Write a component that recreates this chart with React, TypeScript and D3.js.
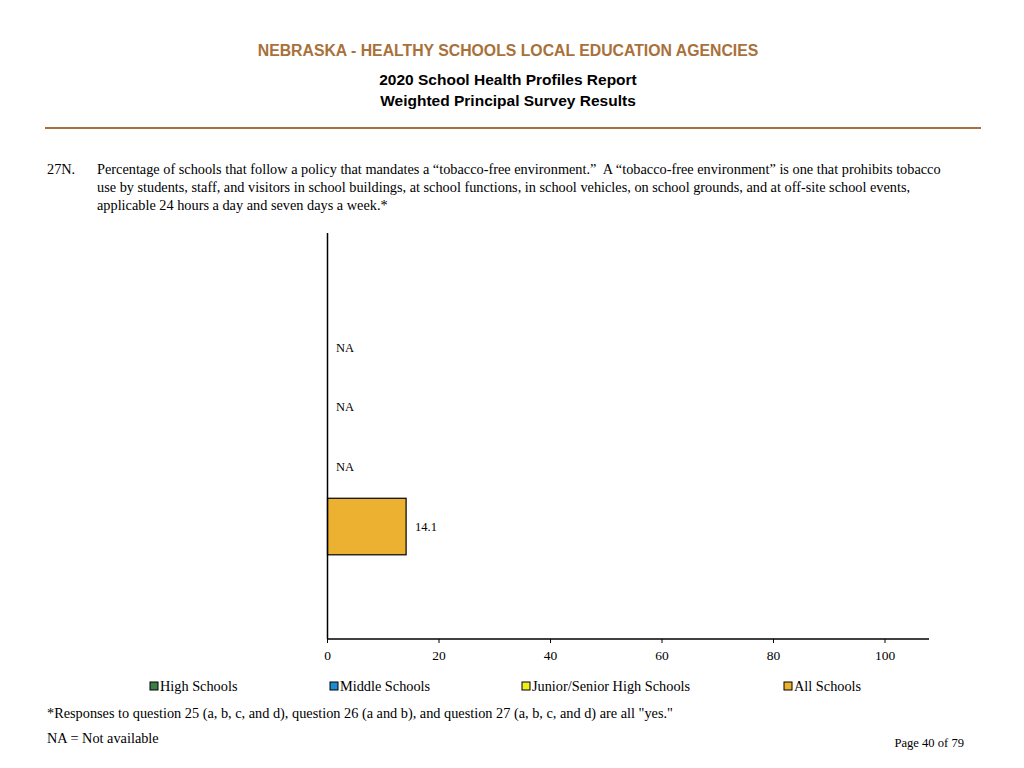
import React from "react";
import * as d3 from "d3";

const categories = ["High Schools", "Middle Schools", "Junior/Senior High Schools", "All Schools"];
const values: (number | null)[] = [null, null, null, 14.1];
const colors = ["#3c7f46", "#1a8ccf", "#f2ee1c", "#edb131"];
const xTicks = [0, 20, 40, 60, 80, 100];
const legendX = [150, 330, 522, 784];

const questionLines = [
  "Percentage of schools that follow a policy that mandates a \u201ctobacco-free environment.\u201d\u00a0 A \u201ctobacco-free environment\u201d is one that prohibits tobacco",
  "use by students, staff, and visitors in school buildings, at school functions, in school vehicles, on school grounds, and at off-site school events,",
  "applicable 24 hours a day and seven days a week.*",
];

export default function App() {
  const W = 1024, H = 768;
  const x = d3.scaleLinear().domain([0, 100]).range([327.5, 885]);
  const y = d3.scaleBand<string>().domain(categories).range([318.5, 556]).paddingInner(0.05).paddingOuter(0.02);
  const serif = "'Liberation Serif', 'Times New Roman', serif";
  const sans = "'Liberation Sans', Arial, sans-serif";
  const fs = 14.3;
  return (
    <svg width={W} height={H} style={{ position: "absolute", left: 0, top: 0, background: "#fff" }}>
      <text x={508} y={55.5} textAnchor="middle" fontFamily={sans} fontWeight="bold" fontSize={15.8} fill="#a8703a">
        NEBRASKA - HEALTHY SCHOOLS LOCAL EDUCATION AGENCIES
      </text>
      <text x={508} y={84.5} textAnchor="middle" fontFamily={sans} fontWeight="bold" fontSize={15.5} fill="#000">
        2020 School Health Profiles Report
      </text>
      <text x={508} y={105.5} textAnchor="middle" fontFamily={sans} fontWeight="bold" fontSize={15.5} fill="#000">
        Weighted Principal Survey Results
      </text>
      <line x1={45} x2={981} y1={128} y2={128} stroke="#a8703a" strokeWidth={2} />
      <text x={47} y={174} fontFamily={serif} fontSize={fs} fill="#000">27N.</text>
      {questionLines.map((l, i) => (
        <text key={i} x={97} y={174 + i * 18} fontFamily={serif} fontSize={fs} fill="#000">{l}</text>
      ))}
      {categories.map((c, i) => {
        const v = values[i];
        const y0 = y(c)!;
        const bh = y.bandwidth();
        if (v === null) {
          return (
            <text key={c} x={336} y={y0 + bh / 2 + 4} fontFamily={serif} fontSize={12.5} fill="#000">NA</text>
          );
        }
        return (
          <g key={c}>
            <rect x={x(0)} y={y0} width={x(v) - x(0)} height={bh} fill={colors[i]} stroke="#000" strokeWidth={1.2} />
            <text x={x(v) + 9} y={y0 + bh / 2 + 4} fontFamily={serif} fontSize={12.5} fill="#000">{v.toFixed(1)}</text>
          </g>
        );
      })}
      <line x1={327.5} x2={327.5} y1={233} y2={639} stroke="#000" strokeWidth={1.5} />
      <line x1={327} x2={929} y1={639} y2={639} stroke="#000" strokeWidth={1.5} />
      {xTicks.map((t) => (
        <g key={t}>
          <line x1={x(t)} x2={x(t)} y1={639} y2={643} stroke="#000" strokeWidth={1} />
          <text x={x(t)} y={660} textAnchor="middle" fontFamily={serif} fontSize={13.5} fill="#000">{t}</text>
        </g>
      ))}
      {categories.map((c, i) => (
        <g key={c}>
          <rect x={legendX[i]} y={682} width={8} height={8} fill={colors[i]} stroke="#000" strokeWidth={1} />
          <text x={legendX[i] + 10} y={690.5} fontFamily={serif} fontSize={fs} fill="#000">{c}</text>
        </g>
      ))}
      <text x={47} y={717.5} fontFamily={serif} fontSize={fs} fill="#000">
        *Responses to question 25 (a, b, c, and d), question 26 (a and b), and question 27 (a, b, c, and d) are all "yes."
      </text>
      <text x={47} y={743} fontFamily={serif} fontSize={fs} fill="#000">NA = Not available</text>
      <text x={964} y={747} textAnchor="end" fontFamily={serif} fontSize={12.6} fill="#000">Page 40 of 79</text>
    </svg>
  );
}
